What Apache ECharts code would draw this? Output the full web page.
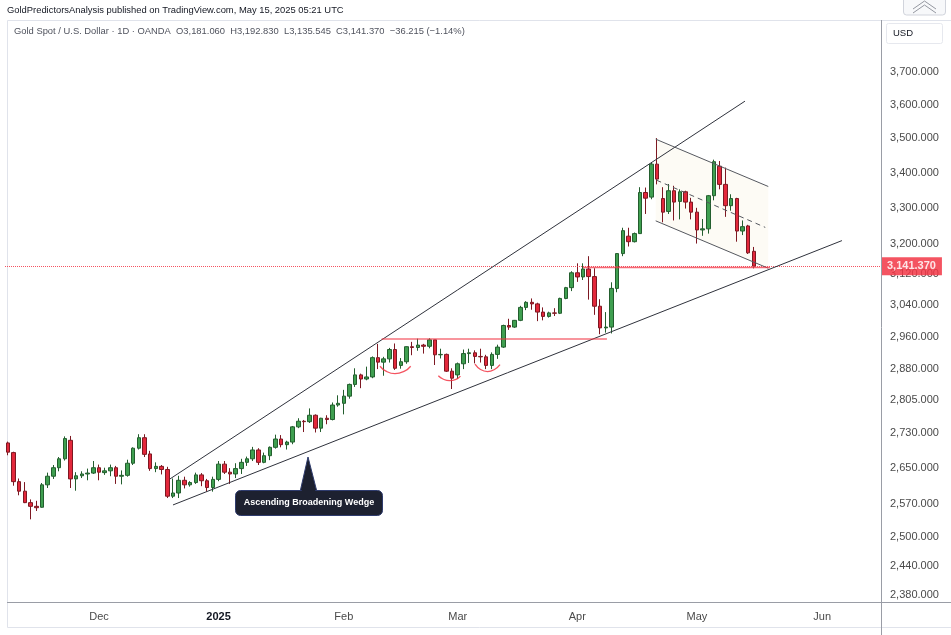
<!DOCTYPE html>
<html>
<head>
<meta charset="utf-8">
<script src="https://cdn.jsdelivr.net/npm/echarts@6/dist/echarts.min.js"></script>
<style>html,body{margin:0;padding:0;background:#fff}#c{width:951px;height:635px}</style>
</head>
<body>
<div id="c"></div>
<script>
// ---- categories (trading days, plus empty future days) ----
const dates = [
'2024-11-08','2024-11-11','2024-11-12','2024-11-13','2024-11-14','2024-11-15','2024-11-18','2024-11-19','2024-11-20','2024-11-21','2024-11-22','2024-11-25','2024-11-26','2024-11-27','2024-11-28','2024-11-29',
'2024-12-02','2024-12-03','2024-12-04','2024-12-05','2024-12-06','2024-12-09','2024-12-10','2024-12-11','2024-12-12','2024-12-13','2024-12-16','2024-12-17','2024-12-18','2024-12-19','2024-12-20','2024-12-23','2024-12-24','2024-12-26','2024-12-27','2024-12-30','2024-12-31',
'2025-01-02','2025-01-03','2025-01-06','2025-01-07','2025-01-08','2025-01-09','2025-01-10','2025-01-13','2025-01-14','2025-01-15','2025-01-16','2025-01-17','2025-01-20','2025-01-21','2025-01-22','2025-01-23','2025-01-24','2025-01-27','2025-01-28','2025-01-29','2025-01-30','2025-01-31',
'2025-02-03','2025-02-04','2025-02-05','2025-02-06','2025-02-07','2025-02-10','2025-02-11','2025-02-12','2025-02-13','2025-02-14','2025-02-17','2025-02-18','2025-02-19','2025-02-20','2025-02-21','2025-02-24','2025-02-25','2025-02-26','2025-02-27','2025-02-28',
'2025-03-03','2025-03-04','2025-03-05','2025-03-06','2025-03-07','2025-03-10','2025-03-11','2025-03-12','2025-03-13','2025-03-14','2025-03-17','2025-03-18','2025-03-19','2025-03-20','2025-03-21','2025-03-24','2025-03-25','2025-03-26','2025-03-27','2025-03-28','2025-03-31',
'2025-04-01','2025-04-02','2025-04-03','2025-04-04','2025-04-07','2025-04-08','2025-04-09','2025-04-10','2025-04-11','2025-04-14','2025-04-15','2025-04-16','2025-04-17','2025-04-21','2025-04-22','2025-04-23','2025-04-24','2025-04-25','2025-04-28','2025-04-29','2025-04-30',
'2025-05-01','2025-05-02','2025-05-05','2025-05-06','2025-05-07','2025-05-08','2025-05-09','2025-05-12','2025-05-13','2025-05-14','2025-05-15',
'2025-05-16','2025-05-19','2025-05-20','2025-05-21','2025-05-22','2025-05-23','2025-05-26','2025-05-27','2025-05-28','2025-05-29','2025-05-30',
'2025-06-02','2025-06-03','2025-06-04','2025-06-05','2025-06-06','2025-06-09','2025-06-10','2025-06-11','2025-06-12','2025-06-13','2025-06-16'
];

// ---- OHLC values ----
const opens = [
2706,2684,2619,2598,2573,2565,2563,2612,2631,2650,2670,2712,2625,2632,2636,2638,
2650,2639,2643,2650,2631,2633,2660,2694,2718,2681,2648,2653,2646,2587,2594,2622,2612,2617,2634,2621,2606,
2624,2658,2640,2636,2648,2662,2670,2690,2662,2677,2696,2715,2702,2708,2743,2756,2755,2770,2740,2763,2760,2794,
2798,2815,2843,2866,2856,2861,2908,2897,2905,2928,2889,2898,2935,2933,2939,2936,2952,2915,2916,2875,
2866,2893,2918,2920,2911,2910,2889,2916,2934,2988,2984,3001,3034,3047,3043,3022,3011,3020,3019,3057,3085,
3124,3113,3134,3114,3037,2982,2984,3083,3175,3222,3207,3229,3343,3330,3424,3326,3290,3348,3318,3345,3316,
3288,3239,3242,3334,3418,3366,3306,3326,3236,3250,3181.06
];
const highs = [
2709,2686,2626,2618,2580,2577,2616,2639,2656,2674,2721,2722,2640,2642,2648,2665,
2657,2650,2657,2654,2644,2668,2696,2726,2726,2688,2662,2656,2652,2626,2632,2630,2620,2639,2638,2625,2630,
2665,2665,2649,2660,2670,2675,2697,2694,2684,2698,2725,2724,2711,2745,2763,2759,2786,2772,2764,2770,2800,2817,
2830,2845,2882,2869,2886,2911,2942,2910,2932,2943,2907,2936,2947,2955,2942,2956,2952,2930,2918,2882,
2896,2928,2930,2926,2930,2915,2921,2940,2990,3005,3002,3038,3050,3057,3046,3034,3023,3032,3059,3087,3128,
3149,3149,3168,3136,3055,3022,3099,3176,3245,3245,3232,3358,3357,3430,3500,3358,3367,3362,3352,3348,3328,
3300,3269,3336,3437,3433,3414,3338,3328,3265,3253,3192.83
];
const lows = [
2678,2610,2589,2572,2537,2555,2562,2605,2625,2642,2666,2605,2599,2627,2622,2636,
2622,2634,2631,2614,2613,2630,2656,2691,2674,2643,2640,2635,2583,2583,2583,2604,2608,2614,2609,2597,2597,
2620,2636,2614,2627,2636,2654,2665,2656,2660,2667,2693,2696,2691,2703,2740,2731,2752,2730,2731,2749,2758,2790,
2772,2809,2837,2834,2853,2858,2880,2864,2896,2878,2881,2893,2914,2925,2918,2931,2890,2906,2873,2832,
2856,2880,2895,2894,2896,2880,2880,2905,2932,2977,2982,2999,3027,3028,2999,3001,3008,3012,3017,3055,3076,
3100,3105,3054,3015,2966,2970,2968,3073,3168,3194,3205,3228,3283,3324,3366,3260,3283,3265,3268,3298,3268,
3202,3223,3229,3321,3352,3275,3292,3207,3225,3174,3135.545
];
const closes = [
2685,2619,2598,2573,2565,2562,2612,2631,2650,2670,2716,2625,2632,2636,2638,2650,
2640,2643,2650,2631,2633,2660,2694,2718,2680,2648,2653,2646,2587,2594,2622,2612,2617,2634,2621,2606,2624,
2658,2640,2636,2648,2662,2670,2690,2662,2677,2696,2715,2702,2708,2743,2756,2755,2770,2740,2763,2760,2794,2798,
2815,2843,2866,2856,2861,2908,2897,2905,2928,2882,2898,2935,2933,2939,2936,2952,2915,2916,2875,2858,
2893,2918,2920,2911,2910,2889,2916,2934,2988,2984,3001,3034,3047,3043,3022,3011,3020,3019,3057,3085,3124,
3113,3134,3114,3037,2982,2984,3083,3175,3237,3207,3229,3343,3327,3424,3381,3288,3348,3316,3345,3316,3288,
3239,3242,3334,3431,3366,3306,3326,3236,3248,3177,3141.37
];

// ---- price axis tick labels (log scale) ----
const priceTicks = [2380,2440,2500,2570,2650,2730,2805,2880,2960,3040,3120,3200,3300,3400,3500,3600,3700];
const lastPrice = 3141.37;

// ---- drawn annotations, in [bar index, price] ----
const upperWedge = [[28.47, 2625], [129.44, 3611]];
const lowerWedge = [[29.0, 2568], [146.47, 3210]];
const channelTop = [[113.76, 3497], [133.53, 3360]];
const channelMid = [[113.9, 3378], [133.0, 3246]];
const channelBottom = [[113.76, 3264], [133.53, 3136]];
const necklineLevel = [[65.65, 2954], [105.2, 2954]];
const supportLevel = [[101.0, 3138], [133.83, 3138]];
const arc1 = [[65.35, 2887], [66.4, 2875], [67.98, 2869], [69.65, 2875], [70.74, 2887]];
const arc2 = [[75.59, 2864], [76.41, 2856], [77.55, 2852], [78.69, 2855], [79.48, 2863]];
const arc3 = [[82.03, 2892], [83.0, 2879], [84.22, 2874], [85.45, 2879], [86.42, 2891]];

const monthNames = ['Jan','Feb','Mar','Apr','May','Jun','Jul','Aug','Sep','Oct','Nov','Dec'];
const fmtPrice = v => v.toLocaleString('en-US', {minimumFractionDigits: 3, maximumFractionDigits: 3});
const monthOf = d => d.slice(5, 7);
const FONT = 'Liberation Sans, Arial, sans-serif';

const candleData = opens.map((o, i) => [o, closes[i], lows[i], highs[i]]);

const tickMarks = priceTicks.map(v => ({
  yAxis: v,
  lineStyle: {color: 'rgba(0,0,0,0)', width: 0},
  label: {show: true, position: 'end', distance: 8, color: '#4a4a4a', fontSize: 11,
          fontFamily: FONT, formatter: fmtPrice(v)}
}));

const annoLine = (data, color, width, type, extra) => Object.assign({
  type: 'line', xAxisIndex: 1, yAxisIndex: 0, data: data, showSymbol: false, symbol: 'none',
  silent: true, z: 5, animation: false,
  lineStyle: {color: color, width: width, type: type || 'solid'}
}, extra || {});

const chart = echarts.init(document.getElementById('c'), null, {renderer: 'canvas'});
chart.setOption({
  backgroundColor: '#ffffff',
  animation: false,
  grid: {left: 5, right: 69, top: 20, bottom: 33, containLabel: false},
  xAxis: [{
    type: 'category', data: dates, boundaryGap: true,
    axisLine: {show: false}, axisTick: {show: false}, splitLine: {show: false},
    axisLabel: {
      color: '#4a4a4a', fontSize: 11, margin: 9, fontFamily: FONT,
      interval: (i) => i > 0 && monthOf(dates[i]) !== monthOf(dates[i - 1]),
      formatter: (v) => {
        const m = +monthOf(v);
        return m === 1 ? '{y|' + v.slice(0, 4) + '}' : monthNames[m - 1];
      },
      rich: {y: {fontWeight: 'bold', color: '#131722', fontSize: 11, fontFamily: FONT}}
    }
  }, {
    type: 'value', min: -0.5, max: dates.length - 0.5, show: false, splitLine: {show: false}
  }],
  yAxis: [{
    type: 'log', logBase: 10, min: 2366, max: 3867, position: 'right', show: false,
    splitLine: {show: false}
  }],
  series: [
    {
      type: 'custom', xAxisIndex: 1, yAxisIndex: 0, silent: true, z: 1,
      data: [channelTop[0]],
      renderItem: (params, api) => {
        const pts = [channelTop[0], channelTop[1], channelBottom[1], channelBottom[0]].map(p => api.coord(p));
        return {type: 'polygon', shape: {points: pts}, style: {fill: 'rgba(236,218,170,0.12)', stroke: null}};
      }
    },
    {
      type: 'candlestick', name: 'XAUUSD', xAxisIndex: 0, yAxisIndex: 0, z: 3,
      data: candleData, barWidth: 4,
      itemStyle: {
        color: '#3f9f50', color0: '#e3283b',
        borderColor: '#235e2e', borderColor0: '#7d1822', borderColorDoji: '#555555', borderWidth: 1
      },
      markLine: {
        silent: true, symbol: ['none', 'none'], animation: false,
        data: tickMarks.concat([{
          yAxis: lastPrice,
          lineStyle: {color: '#f23645', type: 'dotted', width: 1, opacity: 0.85},
          label: {show: true, position: 'end', distance: 0, backgroundColor: '#f23645', color: '#ffffff',
                  fontWeight: 'bold', fontSize: 11, padding: [3, 6, 3, 5], lineHeight: 12,
                  fontFamily: FONT, formatter: fmtPrice(lastPrice)}
        }])
      }
    },
    annoLine(upperWedge, '#2f323c', 1),
    annoLine(lowerWedge, '#2f323c', 1),
    annoLine(channelTop, '#55585f', 1),
    annoLine(channelBottom, '#55585f', 1),
    annoLine(channelMid, '#55585f', 1, [5, 4]),
    annoLine(necklineLevel, 'rgba(242,54,69,0.7)', 1.5),
    annoLine(supportLevel, 'rgba(242,54,69,0.75)', 1.5),
    annoLine(arc1, 'rgba(242,54,69,0.85)', 1.3, 'solid', {smooth: true}),
    annoLine(arc2, 'rgba(242,54,69,0.85)', 1.3, 'solid', {smooth: true}),
    annoLine(arc3, 'rgba(242,54,69,0.85)', 1.3, 'solid', {smooth: true})
  ],
  graphic: [
    {type: 'rect', z: -10, silent: true, shape: {x: 7.5, y: 20.5, width: 950, height: 607}, style: {fill: 'none', stroke: '#e0e3eb', lineWidth: 1}},
    {type: 'line', z: 10, silent: true, shape: {x1: 7, y1: 602.5, x2: 951, y2: 602.5}, style: {stroke: '#9a9da6', lineWidth: 1}},
    {type: 'line', z: 10, silent: true, shape: {x1: 881.5, y1: 20, x2: 881.5, y2: 635}, style: {stroke: '#9a9da6', lineWidth: 1}},
    {type: 'text', z: 10, silent: true, x: 7, y: 10, style: {text: 'GoldPredictorsAnalysis published on TradingView.com, May 15, 2025 05:21 UTC', fill: '#131722', fontSize: 9.4, fontFamily: FONT, textVerticalAlign: 'middle'}},
    {type: 'text', z: 10, silent: true, x: 14, y: 31, style: {text: 'Gold Spot / U.S. Dollar \u00b7 1D \u00b7 OANDA  O3,181.060  H3,192.830  L3,135.545  C3,141.370  \u221236.215 (\u22121.14%)', fill: '#50535e', fontSize: 9.4, fontFamily: FONT, textVerticalAlign: 'middle'}},
    {type: 'rect', z: 10, silent: true, shape: {x: 886.5, y: 23.5, width: 56, height: 20, r: 2}, style: {fill: '#ffffff', stroke: '#e6e8ee'}},
    {type: 'text', z: 11, silent: true, x: 893, y: 33.5, style: {text: 'USD', fill: '#131722', fontSize: 9.5, fontFamily: FONT, textVerticalAlign: 'middle'}},
    {type: 'rect', z: 10, silent: true, shape: {x: 903.5, y: -4, width: 42, height: 19, r: 3}, style: {fill: '#f7f8fa', stroke: '#d1d4dc'}},
    {type: 'polyline', z: 11, silent: true, shape: {points: [[913, 9], [924.5, 1], [936, 9]]}, style: {stroke: '#9598a1', fill: 'none', lineWidth: 1}},
    {type: 'polyline', z: 11, silent: true, shape: {points: [[913, 13], [924.5, 5], [936, 13]]}, style: {stroke: '#9598a1', fill: 'none', lineWidth: 1}},
    {type: 'polygon', z: 20, silent: true, shape: {points: [[300, 492], [308, 457], [317, 492]]}, style: {fill: '#1d2130', stroke: '#2f3c6e', lineWidth: 1}},
    {type: 'rect', z: 21, silent: true, shape: {x: 235.5, y: 490.5, width: 147, height: 25, r: 5}, style: {fill: '#1d2130', stroke: '#2f3c6e', lineWidth: 1}},
    {type: 'polygon', z: 22, silent: true, shape: {points: [[301.5, 492], [308, 460], [315.5, 492]]}, style: {fill: '#1d2130'}},
    {type: 'text', z: 23, silent: true, x: 309, y: 503, style: {text: 'Ascending Broadening Wedge', fill: '#ffffff', fontSize: 9, fontWeight: 'bold', fontFamily: FONT, textAlign: 'center', textVerticalAlign: 'middle'}}
  ]
});
</script>
</body>
</html>
